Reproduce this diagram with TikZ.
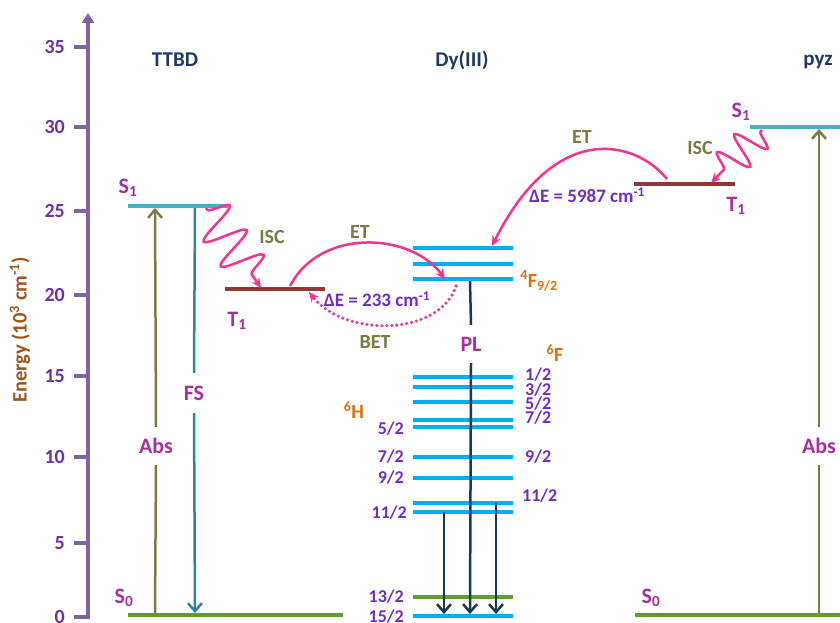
\documentclass[tikz,border=0pt]{standalone}
\usepackage{fontspec}
\setmainfont{Carlito}
\usetikzlibrary{arrows.meta,decorations.pathmorphing}
\definecolor{axisc}{HTML}{8064A2}
\definecolor{tickc}{HTML}{7030A0}
\definecolor{energyc}{HTML}{A0531A}
\definecolor{titlec}{HTML}{1F3864}
\definecolor{magc}{HTML}{A82FA2}
\definecolor{olivec}{HTML}{7A7A45}
\definecolor{violc}{HTML}{6F2DC8}
\definecolor{orangec}{HTML}{E36C0A}
\definecolor{pinkc}{HTML}{F7338F}
\definecolor{s1c}{HTML}{4BACC6}
\definecolor{fsc}{HTML}{31849B}
\definecolor{dyc}{HTML}{00B0F0}
\definecolor{t1c}{HTML}{943634}
\definecolor{s0c}{HTML}{5E9E34}
\definecolor{plc}{HTML}{17375E}
\definecolor{absc}{HTML}{7E7A44}
\tikzset{
  lev/.style={line width=4pt},
  txt/.style={inner sep=0pt, font=\fontsize{20}{24}\selectfont\bfseries},
  big/.style={inner sep=0pt, font=\fontsize{22}{26}\selectfont\bfseries, text=magc},
  frac/.style={inner sep=0pt, font=\fontsize{18}{22}\selectfont\bfseries, text=violc},
  ttl/.style={inner sep=0pt, font=\fontsize{21}{25}\selectfont\bfseries, text=titlec},
  gapnode/.style={big, minimum height=38pt},
  barb/.style={-{Straight Barb[length=8pt,width=14pt,line width=2.5pt]}},
  pinkarrow/.style={pinkc, line width=2.5pt, -{Stealth[length=10pt,width=9pt]}},
  isc/.style={pinkarrow, decorate, decoration={snake, segment length=30pt, amplitude=21pt, pre length=2pt, post length=9pt}},
}
\begin{document}
\begin{tikzpicture}[x=1pt,y=-1pt]
\useasboundingbox (0,0) rectangle (840,623);
% ---------- axis
\coordinate (ax0) at (88,619);
\coordinate (axtop) at (88,13);
\draw[axisc, line width=3.5pt, -{Triangle[length=10pt,width=12pt]}] (ax0) -- (axtop);
\foreach \v/\yy in {0/617,5/543,10/457,15/376,20/295,25/211,30/127,35/47}{
  \draw[axisc, line width=3.5pt] (74,\yy) -- (88,\yy);
  \node[txt, text=tickc, anchor=east] (tk\v) at (65,\yy) {\v};
}
\node[inner sep=0pt, rotate=90, text=energyc, font=\fontsize{20.5}{24}\selectfont\bfseries] (elab) at (20,330) {Energy (10\textsuperscript{3} cm\textsuperscript{-1})};
% ---------- titles
\node[ttl] (tTTBD) at (175,60) {TTBD};
\node[ttl] (tDy) at (462,60) {Dy(III)};
\node[ttl] (tpyz) at (818,62) {pyz};
% ---------- TTBD levels
\coordinate (S1aL) at (128,206); \coordinate (S1aR) at (228,206);
\coordinate (T1aL) at (225,289); \coordinate (T1aR) at (325,289);
\coordinate (S0aL) at (128,615); \coordinate (S0aR) at (343,615);
\draw[lev, s1c] (S1aL) -- (S1aR);
\draw[lev, t1c] (T1aL) -- (T1aR);
\draw[lev, s0c] (S0aL) -- (S0aR);
\node[big] (lS1a) at (128,188) {S\textsubscript{1}};
\node[big] (lT1a) at (237,321) {T\textsubscript{1}};
\node[big] (lS0a) at (124,598) {S\textsubscript{0}};
% Abs / FS
\coordinate (absAb) at (155,613); \coordinate (absAt) at (155,208);
\node[gapnode] (absA) at (156,446) {Abs};
\draw[absc, line width=2.5pt] (absAb) -- (absA.south);
\draw[absc, line width=2.5pt, barb] (absA.north) -- (absAt);
\coordinate (fsT) at (195,208); \coordinate (fsB) at (195,613);
\node[big, minimum height=40pt] (fsN) at (194,393) {FS};
\draw[fsc, line width=2.5pt] (fsT) -- (fsN.north);
\draw[fsc, line width=2.5pt, barb] (fsN.south) -- (fsB);
% ISC TTBD
\coordinate (iscAs) at (206,208); \coordinate (iscAe) at (261,288);
\draw[isc] (iscAs) -- (iscAe);
\node[txt, text=olivec] (lIscA) at (272,237) {ISC};
% ---------- Dy levels
\foreach \n/\yy in {fa/248,fb/264,fc/279,p1/377,p3/387,p5/402,p7/420,h5/427,h7/457,h9/478,fe/503,h11/512,h15/616}{
  \coordinate (\n L) at (413,\yy); \coordinate (\n R) at (513,\yy);
  \draw[lev, dyc] (\n L) -- (\n R);
}
\coordinate (h13L) at (413,597); \coordinate (h13R) at (513,597);
\draw[lev, s0c] (h13L) -- (h13R);
\node[txt, text=orangec] (l4F) at (539,281) {\textsuperscript{4}F\textsubscript{9/2}};
\node[txt, text=orangec] (l6F) at (555,353) {\textsuperscript{6}F};
\node[txt, text=orangec] (l6H) at (354,410) {\textsuperscript{6}H};
\node[frac, anchor=west] (r1) at (525,375) {1/2};
\node[frac, anchor=west] (r3) at (525,390) {3/2};
\node[frac, anchor=west] (r5) at (525,404) {5/2};
\node[frac, anchor=west] (r7) at (525,418) {7/2};
\node[frac, anchor=west] (r9) at (525,457) {9/2};
\node[frac, anchor=west] (r11) at (522,496) {11/2};
\node[frac, anchor=east] (q5) at (404,429) {5/2};
\node[frac, anchor=east] (q7) at (404,457) {7/2};
\node[frac, anchor=east] (q9) at (404,478) {9/2};
\node[frac, anchor=east] (q11) at (407,513) {11/2};
\node[frac, anchor=east] (q13) at (404,597) {13/2};
\node[frac, anchor=east] (q15) at (404,617) {15/2};
% PL
\coordinate (plT) at (470,281);
\coordinate (plB) at (470,614);
\node[gapnode] (plN) at (471,344) {PL};
\draw[plc, line width=2.5pt] (plT) -- (plN.north);
\draw[plc, line width=2.5pt, barb] (plN.south) -- (plB);
\coordinate (pl1T) at (444,512); \coordinate (pl1B) at (444,614);
\coordinate (pl2T) at (496,503); \coordinate (pl2B) at (496,614);
\draw[plc, line width=2.5pt, barb] (pl1T) -- (pl1B);
\draw[plc, line width=2.5pt, barb] (pl2T) -- (pl2B);
% ET / BET TTBD
\coordinate (etAs) at (290,286); \coordinate (etAe) at (445,279);
\draw[pinkarrow] (etAs) .. controls (320,228) and (410,232) .. (etAe);
\node[txt, text=olivec] (lEtA) at (360,232) {ET};
\coordinate (betS) at (456,286); \coordinate (betE) at (309,292);
\draw[pinkc, line width=3.5pt, line cap=round, dash pattern=on 0pt off 5pt, -{Stealth[length=10pt,width=9pt]}] (betS) .. controls (440,336) and (345,338) .. (betE);
\node[txt, text=violc, font=\fontsize{19}{23}\selectfont\bfseries] (dE1) at (377,299) {ΔE = 233 cm\textsuperscript{-1}};
\node[txt, text=olivec] (lBet) at (375,342) {BET};
% ---------- pyz
\coordinate (S1cL) at (750,127); \coordinate (S1cR) at (842,127);
\coordinate (T1cL) at (634,184); \coordinate (T1cR) at (735,184);
\coordinate (S0cL) at (635,615); \coordinate (S0cR) at (842,615);
\draw[lev, s1c] (S1cL) -- (S1cR);
\draw[lev, t1c] (T1cL) -- (T1cR);
\draw[lev, s0c] (S0cL) -- (S0cR);
\node[big] (lS1c) at (741,112) {S\textsubscript{1}};
\node[big] (lT1c) at (736,206) {T\textsubscript{1}};
\node[big] (lS0c) at (651,598) {S\textsubscript{0}};
\coordinate (absCb) at (819,613); \coordinate (absCt) at (819,129);
\node[gapnode] (absC) at (819,446) {Abs};
\draw[absc, line width=2.5pt] (absCb) -- (absC.south);
\draw[absc, line width=2.5pt, barb] (absC.north) -- (absCt);
\coordinate (iscCs) at (762,130); \coordinate (iscCe) at (711,183);
\draw[isc, decoration={snake, segment length=25pt, amplitude=17pt, pre length=2pt, post length=8pt}] (iscCs) -- (iscCe);
\node[txt, text=olivec] (lIscC) at (700,148) {ISC};
\coordinate (etCs) at (667,179); \coordinate (etCe) at (492,246);
\draw[pinkarrow] (etCs) .. controls (635,140) and (555,120) .. (etCe);
\node[txt, text=olivec] (lEtC) at (582,137) {ET};
\node[txt, text=violc, font=\fontsize{19}{23}\selectfont\bfseries] (dE2) at (587,195) {ΔE = 5987 cm\textsuperscript{-1}};
\end{tikzpicture}
\end{document}
